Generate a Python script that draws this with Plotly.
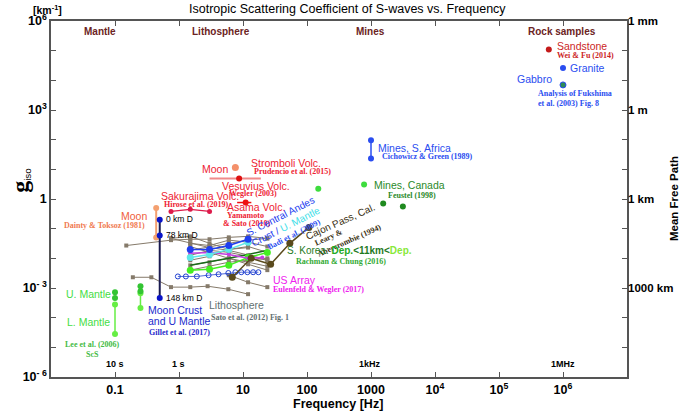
import plotly.graph_objects as go

# ---------------- axis ticks ----------------
freq_ticks = [1e-2, 1e-1, 1, 10, 100, 1e3, 1e4, 1e5, 1e6, 1e7]
freq_ticklabels = ["", "0.1", "1", "10", "100", "1000", "10<sup>4</sup>", "10<sup>5</sup>", "10<sup>6</sup>", ""]
g_ticks = [1e-6, 1e-5, 1e-4, 1e-3, 1e-2, 1e-1, 1, 10, 100, 1e3, 1e4, 1e5, 1e6]
g_ticklabels = ["10<sup>- 6</sup>", "", "", "10<sup>- 3</sup>", "", "", "1", "", "", "10<sup>3</sup>", "", "", "10<sup>6</sup>"]
mfp_ticks = [1e6, 1e3, 1, 1e-3]
mfp_ticklabels = ["1 mm", "1 m", "1 km", "1000 km"]

# ---------------- data (Hz, km^-1) ----------------
sandstone_f = [6e5]; sandstone_g = [1.1e5]
granite_f = [1e6]; granite_g = [2.6e4]
gabbro_f = [1e6]; gabbro_g = [7.0e3]

safrica_f = [1000, 1000]; safrica_g = [95, 23]
feustel_a_f = [150, 780]; feustel_a_g = [2.2, 3.1]
feustel_b_f = [1550, 3150]; feustel_b_g = [0.7, 0.56]

moon_dt_f = [0.44, 0.44]; moon_dt_g = [0.5, 0.05]
gillet_f = [0.5, 0.5, 0.5]; gillet_g = [0.2, 0.059, 4.6e-4]

lee_um_f = [0.1, 0.1, 0.25, 0.25]; lee_um_g = [7.2e-4, 4.6e-4, 1.15e-3, 7.8e-4]
lee_lm1_f = [0.1, 0.1]; lee_lm1_g = [2.8e-4, 2.8e-5]
lee_lm2_f = [0.25, 0.25]; lee_lm2_g = [6.6e-4, 2.1e-4]

sakurajima_f = [0.75, 1.5, 3.0]; sakurajima_g = [0.38, 0.45, 0.38]
moon2_f = [7.6]; moon2_g = [11.5]
vesuvius_f = [8.7]; vesuvius_g = [4.9]; vesuvius_fmin = [3.0]; vesuvius_fmax = [19.0]
asama_f = [11.0]; asama_g = [0.76]; asama_fmin = [8.1]; asama_fmax = [13.5]

badi_f = [1.5, 3, 6, 12]
badi_crust_g = [0.020, 0.020, 0.027, 0.044]
badi_umantle_g = [0.0107, 0.0135, 0.020, 0.035]

usarray_f = [1.5, 3, 6, 12, 20]
usarray_g = [0.0148, 0.0158, 0.0135, 0.010, 0.0107]

korea_f = [1.5, 3, 6, 12, 24]
korea_shallow_g = [0.0058, 0.0074, 0.010, 0.0135, 0.0186]
korea_deep_g = [0.0040, 0.0043, 0.0058, 0.0107, 0.0158]

cajon_f = [6.8, 13.4, 27, 54, 107]
cajon_g = [0.0023, 0.010, 0.0063, 0.032, 0.11]

sato_open_f = [0.96, 1.28, 1.9, 2.9, 4.15, 5.9, 7.6, 9.4, 11.7, 14.4, 17.4]
sato_open_g = [0.00245, 0.00245, 0.00245, 0.0027, 0.0029, 0.0032, 0.0034, 0.0034, 0.0034, 0.0034, 0.0034]

sato_lines_f = [
    [1.5, 3, 6, 12, 24],
    [1.5, 3, 6, 12, 24],
    [0.75, 1.5, 3, 6, 12],
    [1.5, 3, 6, 12, 24],
    [1.5, 3, 6, 12, 24],
    [1.5, 3, 6, 12, 24],
    [1.5, 3, 6, 12, 24],
    [1.5, 3, 6, 12, 24],
    [1.5, 3, 6, 12, 24],
    [0.75, 1.5, 3, 6, 12, 24],
    [6, 12, 24],
    [0.19, 0.37, 0.75, 1.5, 2.8, 5.9, 12],
    [0.15, 0.75, 1.5],
]
sato_lines_g = [
    [0.044, 0.044, 0.051, 0.055, 0.047],
    [0.032, 0.027, 0.041, 0.035, 0.025],
    [0.047, 0.055, 0.032, 0.020, 0.023],
    [0.0186, 0.025, 0.032, 0.041, 0.047],
    [0.0126, 0.0186, 0.0159, 0.0117, 0.0086],
    [0.0086, 0.0117, 0.020, 0.025, 0.0159],
    [0.0058, 0.0074, 0.010, 0.0074, 0.0054],
    [0.025, 0.0159, 0.010, 0.0063, 0.0040],
    [0.0040, 0.0054, 0.0074, 0.0086, 0.010],
    [0.047, 0.032, 0.023, 0.0186, 0.0126, 0.0090],
    [0.0027, 0.00156, 0.00107],
    [2.3e-3, 2.3e-3, 1.07e-3, 1.07e-3, 1.15e-3, 9.1e-4, 6.2e-4],
    [0.027, 0.041, 0.044],
]

# ---------------- figure ----------------
W, H = 685, 413
PL, PR, PT, PB = 51, 632, 20, 377

fig = go.Figure()

def sc(x, y, color, size=6, mode="markers", lw=1.5, symbol="circle", line_color=None, **kw):
    fig.add_trace(go.Scatter(
        x=x, y=y, mode=mode, showlegend=False, hoverinfo="skip",
        marker=dict(color=color, size=size, symbol=symbol,
                    line=dict(width=0 if line_color is None else 1, color=line_color or color)),
        line=dict(color=color, width=lw), **kw))

# Sato et al. lithosphere compilation
for fx, gy in zip(sato_lines_f, sato_lines_g):
    sc(fx, gy, "#857a6a", size=4, mode="lines+markers", lw=1, symbol="square")
sc(sato_open_f, sato_open_g, "#2040d0", size=5, mode="lines+markers", lw=0.8, symbol="circle-open")

# Lithosphere studies
sc(korea_f, korea_shallow_g, "#1a6a1a", mode="lines", lw=1.5)
sc(korea_f, korea_deep_g, "#44ee22", size=7, mode="lines+markers", lw=1.5)
sc(usarray_f, usarray_g, "#c23fe0", size=4, mode="lines+markers", lw=1.5)
sc(badi_f, badi_umantle_g, "#5fe8e8", size=7, mode="lines+markers", lw=1.5)
sc(badi_f, badi_crust_g, "#1f3ff0", size=7, mode="lines+markers", lw=1.5)
sc(cajon_f, cajon_g, "#5a4a1c", size=7, mode="lines+markers", lw=1.5)
sc(sakurajima_f, sakurajima_g, "#dd1a4a", size=5, mode="lines+markers", lw=1.2)

fig.add_trace(go.Scatter(
    x=vesuvius_f, y=vesuvius_g, mode="markers", showlegend=False, hoverinfo="skip",
    marker=dict(color="#dd1111", size=6),
    error_x=dict(type="data", symmetric=False,
                 array=[vesuvius_fmax[0] - vesuvius_f[0]],
                 arrayminus=[vesuvius_f[0] - vesuvius_fmin[0]],
                 color="#f08a8a", thickness=2, width=0)))
fig.add_trace(go.Scatter(
    x=asama_f, y=asama_g, mode="markers", showlegend=False, hoverinfo="skip",
    marker=dict(color="#ee1111", size=6),
    error_x=dict(type="data", symmetric=False,
                 array=[asama_fmax[0] - asama_f[0]],
                 arrayminus=[asama_f[0] - asama_fmin[0]],
                 color="#ee1111", thickness=1.5, width=0)))
sc(moon2_f, moon2_g, "#f4906a", size=7)

# Moon
sc(moon_dt_f, moon_dt_g, "#f4a070", size=6, mode="lines+markers", lw=2)
sc(gillet_f, gillet_g, "#1a1a50", mode="lines", lw=2)
sc(gillet_f, gillet_g, "#0a14c8", size=6)

# Mantle
sc(lee_lm1_f, lee_lm1_g, "#66ee44", size=6, mode="lines+markers", lw=1.5)
sc(lee_lm2_f, lee_lm2_g, "#66ee44", size=6, mode="lines+markers", lw=1.5)
sc(lee_um_f, lee_um_g, "#33c433", size=6)

# Mines
sc(safrica_f, safrica_g, "#2a4df0", size=6, mode="lines+markers", lw=1.5)
sc(feustel_a_f, feustel_a_g, "#3ddc3d", size=6)
sc(feustel_b_f, feustel_b_g, "#1f8a1f", size=6)

# Rock samples
sc(sandstone_f, sandstone_g, "#c41a1a", size=6)
sc(granite_f, granite_g, "#2a4df0", size=6)
sc(gabbro_f, gabbro_g, "#2e8b57", size=6, line_color="#2a4df0")

# dummy trace for right axis
fig.add_trace(go.Scatter(x=[1], y=[1], yaxis="y2", mode="markers",
                         marker=dict(opacity=0), showlegend=False, hoverinfo="skip"))

# ---------------- text ----------------
SANS = "Liberation Sans"
SERIF = "Liberation Serif"
NAME = 10.5
CITE = 8

def ann(text, x, y, color="black", size=NAME, family=SANS, weight="normal",
        xanchor="left", angle=0):
    xp = (x - PL) / (PR - PL)
    yp = (PB - y) / (PB - PT)
    fig.add_annotation(text=text, x=xp, y=yp, xref="paper", yref="paper",
                       xanchor=xanchor, yanchor="middle", showarrow=False,
                       textangle=angle,
                       font=dict(color=color, size=size, family=family, weight=weight))

def cite(text, x, y, color, xanchor="left", angle=0):
    ann(text, x, y, color=color, size=CITE, family=SERIF, weight="bold", xanchor=xanchor, angle=angle)

BROWN = "#6b2323"
for t, x in [("Mantle", 100), ("Lithosphere", 222), ("Mines", 373), ("Rock samples", 566)]:
    ann(t, x, 31, color=BROWN, size=10, weight="bold", xanchor="center")
for t, x in [("10 s", 116), ("1 s", 180), ("1kHz", 373), ("1MHz", 567)]:
    ann(t, x, 364, size=9, weight="bold", xanchor="center")

ann("Isotropic Scattering Coefficient of S-waves vs. Frequency", 350, 8, size=12.5, xanchor="center")
ann("[km<sup>-1</sup>]", 31, 8, size=10.5, weight="bold")
ann("Frequency [Hz]", 340, 404, size=12.5, weight="bold", xanchor="center")
ann("Mean Free Path", 679, 198, size=11.5, weight="bold", xanchor="center", angle=-90)
ann('<span style="font-family:Liberation Serif;font-size:24px"><b>g</b></span><sub>iso</sub>',
    19, 180, size=14, xanchor="center", angle=-90)

# Rock samples
ann("Sandstone", 559, 45, color="#cc1f1f")
cite("Wei & Fu (2014)", 559, 55, "#cc1f1f")
ann("Granite", 572, 67, color="#2a4df0")
ann("Gabbro", 558, 78, color="#2a4df0", xanchor="right")
cite("Analysis of Fukshima", 540, 93, "#2a4df0")
cite("et al. (2003) Fig. 8", 540, 103, "#2a4df0")

# Mines
ann("Mines, S. Africa", 379, 147, color="#2a4df0")
cite("Cichowicz & Green (1989)", 383, 156, "#2a4df0")
ann("Mines, Canada", 375, 184, color="#2a8a2a")
cite("Feustel (1998)", 389, 195, "#2a8a2a")

# Moon
ann("Moon", 135, 216, color="#f0603c", xanchor="center")
cite("Dainty & Toksoz (1981)", 105, 225, "#f07a50", xanchor="center")
for t, yy in [("0 km D", 219), ("78 km D", 235), ("148 km D", 298)]:
    ann(t, 165, yy, size=8.5)
ann("Moon Crust", 147, 310, color="#1a2acc")
ann("and U Mantle", 147, 321, color="#1a2acc")
cite("Gillet et al. (2017)", 148, 332, "#2a2acc")

# Mantle
ann("U. Mantle", 64, 294, color="#44dd44")
ann("L. Mantle", 65, 322, color="#44dd44")
cite("Lee et al. (2006)", 93, 344, "#44bb44", xanchor="center")
cite("ScS", 93, 354, "#44bb44", xanchor="center")

# Volcanoes
ann("Sakurajima Volc.", 160, 195, color="#ee2233")
cite("Hirose et al. (2019)", 163, 204, "#ee2233")
ann("Moon", 232, 168, color="#ee2233", xanchor="right")
ann("Stromboli Volc.", 251, 162, color="#ee2233")
cite("Prudencio et al. (2015)", 254, 171, "#ee2233")
ann("Vesuvius Volc.", 221, 185, color="#ee2233")
cite("Wegler (2003)", 229, 193, "#ee2233")
ann("Asama Volc.", 227, 207, color="#ee2233")
cite("Yamamoto", 227, 215, "#ee2233")
cite("& Sato (2010)", 222, 223, "#ee2233")

# Andes
ann("S. Central Andes", 282, 216, color="#1f3ff0", size=10, xanchor="center", angle=-27)
ann('Crust / <span style="color:#44e0e8">U. Mantle</span>', 288, 226, color="#1f3ff0",
    size=10, xanchor="center", angle=-27)
cite("Badi et al. (2009)", 296, 234, "#2a4df0", xanchor="center", angle=-27)

# Cajon
ann("Cajon Pass, Cal.", 343, 221, color="#3a3012", size=10, xanchor="center", angle=-24)
cite("Leary &", 331, 237, "#3a3012", xanchor="center", angle=-24)
cite("Abercrombie (1994)", 352, 240, "#3a3012", xanchor="center", angle=-24)

# Korea
ann('S. Korea: <span style="color:#22aa22"><b>Dep.</b></span><b>&lt;11km&lt;</b>'
    '<span style="color:#88e83a"><b>Dep.</b></span>', 287, 250, color="#1f7a1f", size=10)
cite("Rachman & Chung (2016)", 296, 261, "#33aa33")

# US Array
ann("US Array", 273, 280, color="#ee22ee")
cite("Eulenfeld & Wegler (2017)", 273, 289, "#ee22ee")

# Lithosphere
ann("Lithosphere", 208, 305, color="#5f7070")
cite("Sato et al. (2012) Fig. 1", 210, 317, "#5f7070")

# ---------------- layout ----------------
AX = "#555555"
fig.update_layout(
    width=W, height=H,
    margin=dict(l=PL, r=W - PR, t=PT, b=H - PB),
    paper_bgcolor="white", plot_bgcolor="white",
    xaxis=dict(type="log", range=[-2, 7], tickvals=freq_ticks, ticktext=freq_ticklabels,
               ticks="inside", ticklen=5, tickcolor=AX, showline=True, linecolor=AX,
               linewidth=1.5, mirror="ticks", showgrid=False, zeroline=False,
               tickfont=dict(family=SANS, size=12.5, color="black", weight="bold")),
    yaxis=dict(type="log", range=[-6, 6], tickvals=g_ticks, ticktext=g_ticklabels,
               ticks="inside", ticklen=5, tickcolor=AX, showline=True, linecolor=AX,
               linewidth=1.5, mirror="ticks", showgrid=False, zeroline=False,
               tickfont=dict(family=SANS, size=12.5, color="black", weight="bold")),
    yaxis2=dict(type="log", range=[-6, 6], overlaying="y", side="right",
                tickvals=mfp_ticks, ticktext=mfp_ticklabels, ticks="", showline=False,
                showgrid=False, zeroline=False,
                tickfont=dict(family=SANS, size=11.5, color="black", weight="bold")),
)

fig.write_html("out.html", config={"displayModeBar": False},
               post_script="document.body.style.margin='0';")
